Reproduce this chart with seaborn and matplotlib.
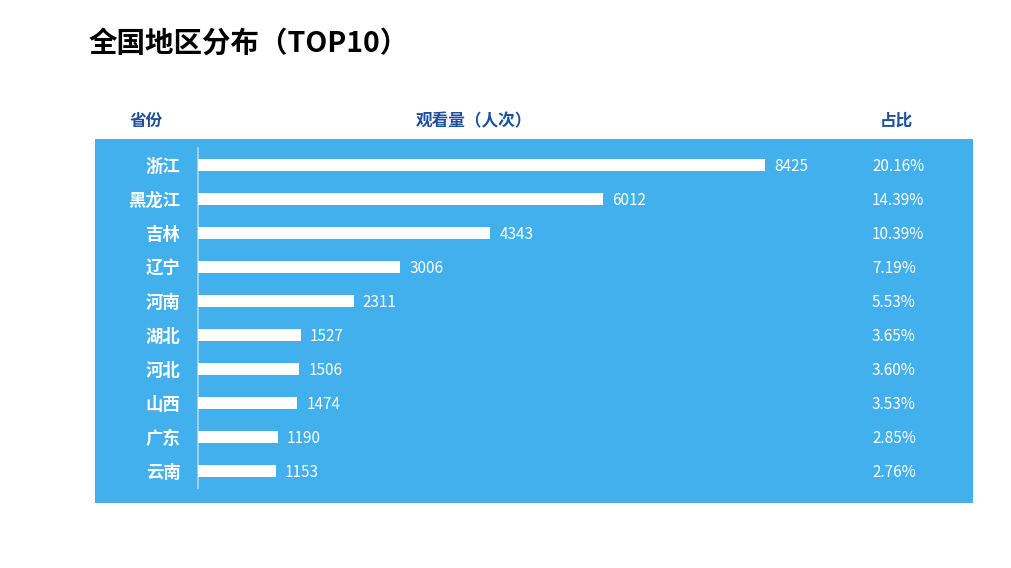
import matplotlib
matplotlib.use("Agg")
import matplotlib.pyplot as plt
from matplotlib.patches import Rectangle
import seaborn as sns
import pandas as pd

provinces = ["浙江", "黑龙江", "吉林", "辽宁", "河南", "湖北", "河北", "山西", "广东", "云南"]
views = [8425, 6012, 4343, 3006, 2311, 1527, 1506, 1474, 1190, 1153]
shares = ["20.16%", "14.39%", "10.39%", "7.19%", "5.53%", "3.65%", "3.60%", "3.53%", "2.85%", "2.76%"]
title = "全国地区分布（TOP10）"
headers = ["省份", "观看量（人次）", "占比"]

sns.set_theme(style="white")
plt.rcParams["font.family"] = ["Noto Sans CJK SC", "DejaVu Sans"]

W, H = 1011, 568
fig = plt.figure(figsize=(W / 100, H / 100), dpi=100)
fig.patch.set_facecolor("white")

BLUE = "#43B0EE"
HDR = "#1E4F9C"

# blue panel
fig.patches.append(Rectangle((95 / W, 1 - 503 / H), (973 - 95) / W, (503 - 139) / H,
                             transform=fig.transFigure, facecolor=BLUE, edgecolor="none", zorder=-10))

ax_left, ax_right = 198, 965
ax_top, ax_bot = 148, 488
ax = fig.add_axes([ax_left / W, 1 - ax_bot / H, (ax_right - ax_left) / W, (ax_bot - ax_top) / H])
ax.set_facecolor("none")
ax.set_zorder(5)

df = pd.DataFrame({"province": provinces, "views": views})
sns.barplot(data=df, x="views", y="province", orient="h", color="white",
            width=0.35, saturation=1, linewidth=0, ax=ax, zorder=3)

scale = (765 - 198) / 8425
ax.set_xlim(0, (ax_right - ax_left) / scale)
ax.set_ylim(9.5, -0.5)

for s in ["top", "right", "bottom"]:
    ax.spines[s].set_visible(False)
ax.spines["left"].set_color("#A8D8F6")
ax.spines["left"].set_linewidth(1.2)
ax.set_xticks([])
ax.set_xlabel("")
ax.set_ylabel("")
ax.tick_params(axis="y", length=0, pad=12.5)
for lbl in ax.get_yticklabels():
    lbl.set_color("white")
    lbl.set_fontweight("bold")
    lbl.set_fontsize(12.5)

for i, (v, s) in enumerate(zip(views, shares)):
    ax.annotate(str(v), xy=(v, i + 0.03), xytext=(6.5, 0), textcoords="offset points",
                va="center", ha="left", color="white", fontsize=11)
    ax.text((872 - ax_left) / (ax_right - ax_left), i + 0.03, s,
            transform=ax.get_yaxis_transform(), va="center", ha="left",
            color="white", fontsize=11)

fig.text(89 / W, 1 - 44 / H, title, fontsize=20.5, fontweight="bold", color="black",
         ha="left", va="center")
for txt, xc in zip(headers, [146, 474, 896]):
    fig.text(xc / W, 1 - 121 / H, txt, fontsize=12, fontweight="bold", color=HDR,
             ha="center", va="center")

fig.savefig("out.png", dpi=100)
